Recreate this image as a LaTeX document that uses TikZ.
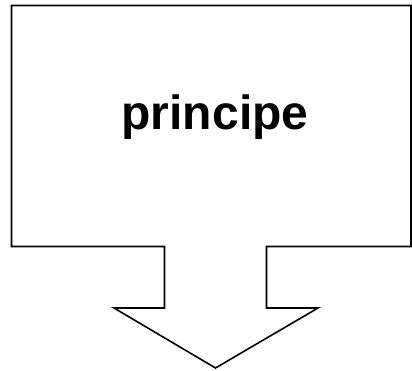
\documentclass[tikz,border=0pt]{standalone}
\usepackage{fontspec}
\setmainfont{Liberation Sans}
\begin{document}
\begin{tikzpicture}[x=1pt,y=-1pt,
  callout/.style={draw=black,line width=1.6pt,fill=white,line join=miter},
  label/.style={font=\fontsize{48}{52}\selectfont\bfseries,inner sep=0pt}]
\useasboundingbox (0,0) rectangle (412,370);
\draw[callout] (11.5,5.5) -- (411,5.5) -- (411,246.5) -- (266.5,246.5) -- (266.5,308)
  -- (318,308) -- (215.5,368) -- (114,308) -- (164.5,308) -- (164.5,246.5)
  -- (11.5,246.5) -- cycle;
\node[label,anchor=base] (t) at (215,129) {principe};
\end{tikzpicture}
\end{document}
